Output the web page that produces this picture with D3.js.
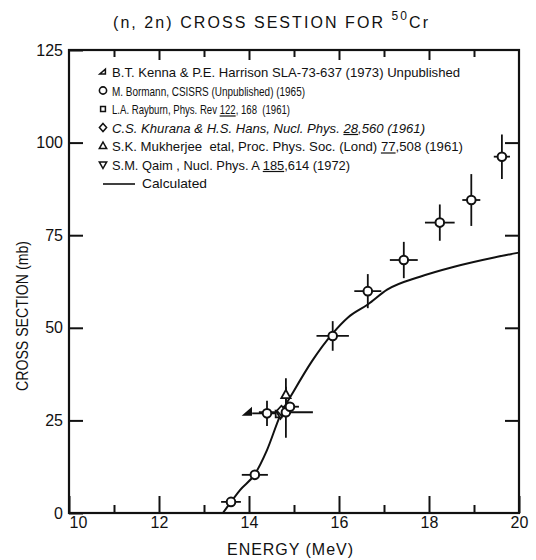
<!DOCTYPE html>
<html>
<head>
<meta charset="utf-8">
<script src="https://cdn.jsdelivr.net/npm/d3@7"></script>
<style>
  body { margin: 0; background: #fff; }
  svg { display: block; }
  text { font-family: "Liberation Sans", Arial, sans-serif; fill: #111; }
  .legend text { white-space: pre; }
</style>
</head>
<body>
<svg id="chart" width="536" height="560"></svg>
<script>
// Axis ticks
const xMajor = [10, 12, 14, 16, 18, 20];
const xMinor = [11, 13, 15, 17, 19];
const xInner = [12, 14, 16, 18];
const yTicks = [0, 25, 50, 75, 100, 125];
const yInner = [25, 50, 75, 100];

// M. Bormann (circles): energy (MeV), sigma (mb), energy spread, sigma error
const bormannE  = [13.60, 14.13, 14.40, 14.82, 14.91, 15.86, 16.64, 17.44, 18.24, 18.94, 19.62];
const bormannS  = [3.0, 10.3, 26.9, 27.2, 28.7, 47.8, 59.9, 68.3, 78.4, 84.5, 96.2];
const bormannDE = [0.22, 0.29, 0.33, 0.6, 0.2, 0.36, 0.3, 0.31, 0.33, 0.2, 0.18];
const bormannDS = [0.8, 0.8, 3.4, 6.9, 1.2, 4.0, 4.6, 4.9, 4.9, 7.0, 6.0];

// B.T. Kenna & P.E. Harrison
const kennaE = [13.98];
const kennaS = [27.2];
// L.A. Rayburn
const rayburnE = [14.66];
const rayburnS = [26.6];
// C.S. Khurana & H.S. Hans
const khuranaE = [14.72];
const khuranaS = [27.6];
// S.K. Mukherjee et al.
const mukherjeeE  = [14.82];
const mukherjeeS  = [31.9];
const mukherjeeDS = [4.5];
// S.M. Qaim
const qaimE = [14.70];
const qaimS = [26.8];

// Calculated excitation function
const calcE = [13.42, 13.6, 13.8, 14.13, 14.4, 14.7, 15.0, 15.4, 15.86, 16.2, 16.64, 17.07, 17.8, 18.56, 19.45, 20.0];
const calcS = [0, 3.0, 6.2, 10.5, 17.0, 26.5, 33.0, 41.0, 48.5, 52.8, 56.3, 60.3, 63.8, 66.5, 69.0, 70.3];

// Legend entries: [before, underlined, after]
const legendSymbols = ["kenna", "circle", "square", "diamond", "up", "down", "line"];
const legendParts = [
  ["B.T. Kenna & P.E. Harrison SLA-73-637 (1973) Unpublished", "", ""],
  ["M. Bormann, CSISRS (Unpublished) (1965)", "", ""],
  ["L.A. Rayburn, Phys. Rev ", "122", ", 168  (1961)"],
  ["C.S. Khurana & H.S. Hans, Nucl. Phys. ", "28", ",560 (1961)"],
  ["S.K. Mukherjee  etal, Proc. Phys. Soc. (Lond) ", "77", ",508 (1961)"],
  ["S.M. Qaim , Nucl. Phys. A ", "185", ",614 (1972)"],
  ["Calculated", "", ""]
];
const legendItalic = [false, false, false, true, false, false, false];
const legendEnds = [460, 305, 290, 425, 463, 350, 207];

const svg = d3.select("#chart");
const x = d3.scaleLinear().domain([10, 20]).range([69, 519]);
const y = d3.scaleLinear().domain([0, 125]).range([513, 50]);

const ink = "#111";

// Tick marks (all drawn inward)
function styleAxis(g) {
  g.select(".domain").remove();
  g.selectAll(".tick line").attr("stroke", ink).attr("stroke-width", 2);
  g.selectAll(".tick text").attr("fill", ink);
}

svg.append("g").attr("transform", `translate(0,${y(0)})`)
  .call(d3.axisBottom(x).tickValues(xMajor).tickSizeInner(-17).tickSizeOuter(0)
        .tickPadding(4).tickFormat(d3.format("d")))
  .call(styleAxis)
  .call(g => g.selectAll(".tick text").attr("font-size", 16)
        .attr("font-family", "'Liberation Sans', Arial, sans-serif")
        .attr("dx", (d, i) => i === 0 ? 9 : 0));

svg.append("g").attr("transform", `translate(0,${y(0)})`)
  .call(d3.axisBottom(x).tickValues(xMinor).tickSizeInner(-8).tickSizeOuter(0).tickFormat(""))
  .call(styleAxis);

svg.append("g").attr("transform", `translate(0,${y(125)})`)
  .call(d3.axisTop(x).tickValues(xInner).tickSizeInner(-10).tickSizeOuter(0).tickFormat(""))
  .call(styleAxis);
svg.append("g").attr("transform", `translate(0,${y(125)})`)
  .call(d3.axisTop(x).tickValues(xMinor).tickSizeInner(-7).tickSizeOuter(0).tickFormat(""))
  .call(styleAxis);

svg.append("g").attr("transform", `translate(${x(10)},0)`)
  .call(d3.axisLeft(y).tickValues(yTicks).tickSizeInner(-14).tickSizeOuter(0)
        .tickPadding(6).tickFormat(d3.format("d")))
  .call(styleAxis)
  .call(g => g.selectAll(".tick text").attr("font-size", 16)
        .attr("font-family", "'Liberation Sans', Arial, sans-serif"));

svg.append("g").attr("transform", `translate(${x(20)},0)`)
  .call(d3.axisRight(y).tickValues(yInner).tickSizeInner(-14).tickSizeOuter(0).tickFormat(""))
  .call(styleAxis);

// Frame
svg.append("rect")
  .attr("x", x(10)).attr("y", y(125))
  .attr("width", x(20) - x(10)).attr("height", y(0) - y(125))
  .attr("fill", "none").attr("stroke", ink).attr("stroke-width", 2.2);

// Axis titles
svg.append("text")
  .attr("x", 290).attr("y", 555).attr("text-anchor", "middle")
  .attr("font-size", 16).attr("textLength", 126).attr("lengthAdjust", "spacing")
  .text("ENERGY (MeV)");

svg.append("text")
  .attr("transform", "translate(28,316) rotate(-90)")
  .attr("text-anchor", "middle")
  .attr("font-size", 16).attr("textLength", 150).attr("lengthAdjust", "spacingAndGlyphs")
  .text("CROSS SECTION (mb)");

// Title
const title = svg.append("text")
  .attr("x", 113).attr("y", 28)
  .attr("font-size", 16).attr("textLength", 315).attr("lengthAdjust", "spacing");
title.append("tspan").text("(n, 2n) CROSS SESTION FOR ");
title.append("tspan").attr("font-size", 12).attr("dy", -8).text("50");
title.append("tspan").attr("dy", 8).text("Cr");

// Calculated curve
const calcPts = calcE.map((e, i) => [e, calcS[i]]);
svg.append("path")
  .datum(calcPts)
  .attr("fill", "none").attr("stroke", ink).attr("stroke-width", 2)
  .attr("d", d3.line().x(d => x(d[0])).y(d => y(d[1])).curve(d3.curveMonotoneX));

// Error bars
const errG = svg.append("g").attr("stroke", ink).attr("stroke-width", 1.8);
bormannE.forEach((e, i) => {
  errG.append("line")
    .attr("x1", x(e - bormannDE[i])).attr("x2", x(e + bormannDE[i]))
    .attr("y1", y(bormannS[i])).attr("y2", y(bormannS[i]));
  errG.append("line")
    .attr("x1", x(e)).attr("x2", x(e))
    .attr("y1", y(bormannS[i] - bormannDS[i])).attr("y2", y(bormannS[i] + bormannDS[i]));
});
mukherjeeE.forEach((e, i) => {
  errG.append("line")
    .attr("x1", x(e)).attr("x2", x(e))
    .attr("y1", y(mukherjeeS[i] - mukherjeeDS[i])).attr("y2", y(mukherjeeS[i] + mukherjeeDS[i]));
});

// Marker shapes
const symbolPath = {
  kenna: "M-4,2.5 L3,2.5 L3,-3.5 Z",
  square: d3.symbol(d3.symbolSquare, 36)(),
  diamond: "M0,-5 L4.5,0 L0,5 L-4.5,0 Z",
  up: "M0,-5 L4.6,3.2 L-4.6,3.2 Z",
  down: "M0,5 L4.6,-3.2 L-4.6,-3.2 Z"
};

function drawMarker(g, kind, cx, cy) {
  if (kind === "circle") {
    g.append("circle").attr("cx", cx).attr("cy", cy).attr("r", 4.3)
      .attr("fill", "#fff").attr("stroke", ink).attr("stroke-width", 2);
  } else if (kind === "line") {
    g.append("line").attr("x1", cx).attr("x2", cx + 32).attr("y1", cy).attr("y2", cy)
      .attr("stroke", ink).attr("stroke-width", 1.6);
  } else {
    g.append("path").attr("transform", `translate(${cx},${cy})`)
      .attr("d", symbolPath[kind])
      .attr("fill", kind === "kenna" ? ink : "#fff")
      .attr("stroke", ink).attr("stroke-width", 1.8);
  }
}

const markG = svg.append("g");
rayburnE.forEach((e, i) => drawMarker(markG, "square", x(e), y(rayburnS[i])));
qaimE.forEach((e, i) => drawMarker(markG, "down", x(e), y(qaimS[i])));
khuranaE.forEach((e, i) => drawMarker(markG, "diamond", x(e), y(khuranaS[i])));
kennaE.forEach((e, i) => drawMarker(markG, "kenna", x(e), y(kennaS[i])));
mukherjeeE.forEach((e, i) => drawMarker(markG, "up", x(e), y(mukherjeeS[i])));
bormannE.forEach((e, i) => drawMarker(markG, "circle", x(e), y(bormannS[i])));

// Legend
const legG = svg.append("g").attr("class", "legend");
legendParts.forEach((parts, i) => {
  const cy = 72 + i * 18.5;
  const kind = legendSymbols[i];
  if (kind === "line") {
    drawMarker(legG, "line", 103, cy + 1);
  } else if (kind === "circle") {
    legG.append("circle").attr("cx", 103).attr("cy", cy).attr("r", 3.6)
      .attr("fill", "#fff").attr("stroke", ink).attr("stroke-width", 1.6);
  } else {
    legG.append("path").attr("transform", `translate(103,${cy}) scale(0.8)`)
      .attr("d", symbolPath[kind]).attr("fill", "#fff")
      .attr("stroke", ink).attr("stroke-width", 1.9);
  }
  const x0 = kind === "line" ? 142 : 112;
  const full = parts.join("");
  const t = legG.append("text")
    .attr("x", x0).attr("y", cy + 5)
    .attr("font-size", 13)
    .attr("font-style", legendItalic[i] ? "italic" : "normal")
    .attr("textLength", legendEnds[i] - x0).attr("lengthAdjust", "spacingAndGlyphs")
    .text(full);
  // underline the volume number
  if (parts[1]) {
    const node = t.node();
    const i0 = parts[0].length;
    const i1 = i0 + parts[1].length - 1;
    const a = node.getStartPositionOfChar(i0).x;
    const b = node.getEndPositionOfChar(i1).x;
    legG.append("line")
      .attr("x1", a).attr("x2", b)
      .attr("y1", cy + 7).attr("y2", cy + 7)
      .attr("stroke", ink).attr("stroke-width", 1.2);
  }
});
</script>
</body>
</html>
